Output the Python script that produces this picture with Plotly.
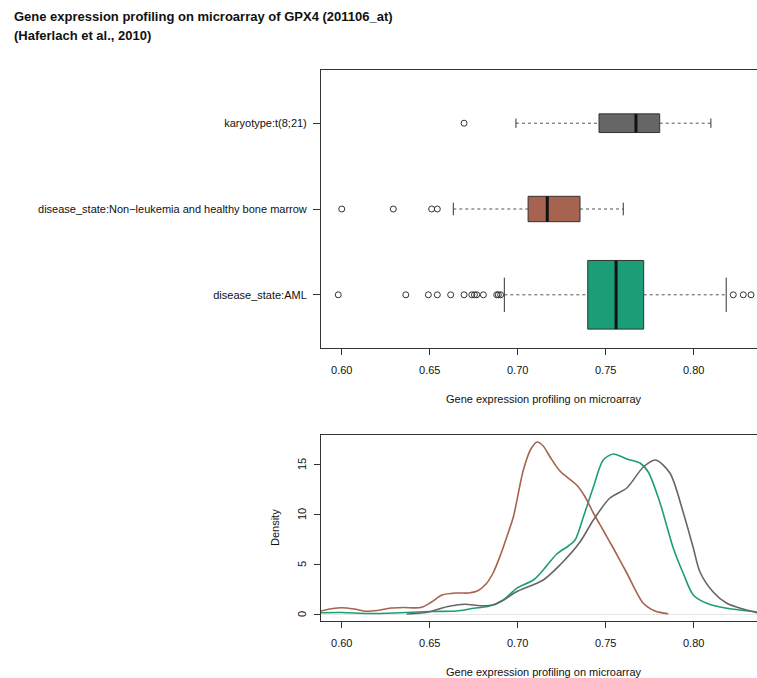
import numpy as np
import plotly.graph_objects as go

# ---- box plot data (GPX4, 201106_at) ----
groups = [
    "disease_state:AML",
    "disease_state:Non\u2212leukemia and healthy bone marrow",
    "karyotype:t(8;21)",
]
group_sizes = [542, 74, 40]
colors = ["#1B9E77", "#A6634F", "#666666"]

whisker_low = [0.6924, 0.6634, 0.6990]
q1 = [0.7398, 0.7059, 0.7462]
median = [0.7559, 0.7168, 0.7672]
q3 = [0.7716, 0.7354, 0.7807]
whisker_high = [0.8185, 0.7600, 0.8098]
outliers = [
    [0.5980, 0.6364, 0.6492, 0.6543, 0.6619, 0.6695, 0.6739, 0.6754, 0.6767,
     0.6805, 0.6881, 0.6890, 0.6903, 0.8225, 0.8282, 0.8326],
    [0.6000, 0.6293, 0.6511, 0.6543],
    [0.6695],
]

# ---- kernel density curves ----
dens_x_aml = [0.5882, 0.600, 0.615, 0.630, 0.650, 0.665, 0.675, 0.684, 0.6918,
              0.6994, 0.7089, 0.7145, 0.7222, 0.7288, 0.7326, 0.7373, 0.743,
              0.7486, 0.7543, 0.762, 0.7695, 0.7742, 0.7809, 0.7884, 0.794,
              0.7998, 0.8074, 0.8188, 0.8358]
dens_y_aml = [0.13, 0.15, 0.05, 0.10, 0.25, 0.30, 0.57, 0.80, 1.4,
              2.57, 3.4, 4.4, 6.0, 6.8, 7.4, 9.7, 12.7,
              15.4, 16.0, 15.5, 15.1, 14.2, 11.1, 6.6, 4.1,
              1.9, 1.07, 0.57, 0.23]

dens_x_normal = [0.5882, 0.595, 0.600, 0.607, 0.614, 0.620, 0.627, 0.635, 0.645,
                 0.651, 0.657, 0.665, 0.672, 0.677, 0.682, 0.686, 0.690, 0.6928,
                 0.6975, 0.7032, 0.7075, 0.7111, 0.7145, 0.7184, 0.724, 0.7335,
                 0.738, 0.743, 0.7485, 0.7543, 0.762, 0.7714, 0.778, 0.7856]
dens_y_normal = [0.30, 0.55, 0.63, 0.50, 0.27, 0.35, 0.57, 0.65, 0.65,
                 1.2, 1.9, 2.1, 2.1, 2.3, 3.0, 4.1, 5.8, 7.2,
                 9.7, 14.4, 16.5, 17.2, 16.8, 15.7, 14.3, 12.9,
                 11.8, 10.1, 8.4, 6.6, 4.1, 1.07, 0.30, 0.02]

dens_x_t821 = [0.6369, 0.645, 0.650, 0.6597, 0.670, 0.6786, 0.686, 0.692, 0.699,
               0.7145, 0.724, 0.7354, 0.743, 0.7524, 0.762, 0.7714, 0.7784,
               0.7865, 0.794, 0.7998, 0.8036, 0.8111, 0.8188, 0.8281, 0.836]
dens_y_t821 = [0.0, 0.10, 0.23, 0.73, 0.97, 0.83, 0.90, 1.4, 2.2,
               3.4, 4.9, 7.2, 9.4, 11.6, 12.6, 14.7, 15.4,
               14.1, 10.2, 6.6, 4.2, 2.2, 1.07, 0.5, 0.13]

density_series = [
    (dens_x_aml, dens_y_aml),
    (dens_x_normal, dens_y_normal),
    (dens_x_t821, dens_y_t821),
]

x_ticks = [0.60, 0.65, 0.70, 0.75, 0.80]
density_ticks = [0, 5, 10, 15]

title_lines = [
    "Gene expression profiling on microarray of GPX4 (201106_at)",
    "(Haferlach et al., 2010)",
]
x_title = "Gene expression profiling on microarray"

FONT = "Liberation Sans, Arial, Helvetica, sans-serif"
W, H = 757, 678
AXIS_COL = "#333333"
TEXT_COL = "#111111"

fig = go.Figure()

# ---- horizontal box plots (R style: dashed whiskers, staples, open-circle outliers) ----
max_n = max(group_sizes)
for i, name in enumerate(groups):
    pos = i + 1
    half = 0.4 * np.sqrt(group_sizes[i] / max_n)
    col = colors[i]
    # whiskers
    fig.add_trace(go.Scatter(
        x=[whisker_low[i], q1[i], None, q3[i], whisker_high[i]],
        y=[pos, pos, None, pos, pos],
        mode="lines", line=dict(color="#555555", width=1, dash="3px,3px"),
        hoverinfo="skip", showlegend=False, xaxis="x", yaxis="y"))
    # staples
    fig.add_trace(go.Scatter(
        x=[whisker_low[i], whisker_low[i], None, whisker_high[i], whisker_high[i]],
        y=[pos - half / 2, pos + half / 2, None, pos - half / 2, pos + half / 2],
        mode="lines", line=dict(color="#333333", width=1),
        hoverinfo="skip", showlegend=False, xaxis="x", yaxis="y"))
    # box
    fig.add_trace(go.Scatter(
        x=[q1[i], q3[i], q3[i], q1[i], q1[i]],
        y=[pos - half, pos - half, pos + half, pos + half, pos - half],
        mode="lines", fill="toself", fillcolor=col,
        line=dict(color="#333333", width=1),
        name=name, showlegend=False, xaxis="x", yaxis="y"))
    # median
    fig.add_trace(go.Scatter(
        x=[median[i], median[i]], y=[pos - half, pos + half],
        mode="lines", line=dict(color="#111111", width=3),
        hoverinfo="skip", showlegend=False, xaxis="x", yaxis="y"))
    # outliers
    fig.add_trace(go.Scatter(
        x=outliers[i], y=[pos] * len(outliers[i]),
        mode="markers",
        marker=dict(symbol="circle-open", size=6, color="#333333",
                    line=dict(width=1, color="#333333")),
        showlegend=False, xaxis="x", yaxis="y"))

# ---- density curves ----
for i, (dx, dy) in enumerate(density_series):
    fig.add_trace(go.Scatter(
        x=dx, y=dy, mode="lines",
        line=dict(color=colors[i], width=1.6, shape="spline", smoothing=0.8),
        name=groups[i], showlegend=False, xaxis="x2", yaxis="y2"))

x_left = 321 / W
top_dom = [1 - 348 / H, 1 - 70 / H]
bot_dom = [1 - 621 / H, 1 - 435 / H]
x_range = [0.5882, 0.836]

common_x = dict(
    range=x_range, domain=[x_left, 1], tickvals=x_ticks,
    ticktext=[f"{v:.2f}" for v in x_ticks],
    ticks="outside", ticklen=6, tickcolor=AXIS_COL, tickwidth=1,
    showline=True, linecolor=AXIS_COL, linewidth=1, mirror=True,
    showgrid=False, zeroline=False, ticklabelstandoff=6,
    tickfont=dict(family=FONT, size=11, color=TEXT_COL),
)

fig.update_layout(
    width=W, height=H,
    margin=dict(l=0, r=0, t=0, b=0),
    paper_bgcolor="white", plot_bgcolor="white",
    font=dict(family=FONT, size=11, color=TEXT_COL),
    xaxis=dict(anchor="y", **common_x),
    yaxis=dict(
        domain=top_dom, range=[0.38, 3.62], tickvals=[1, 2, 3], ticktext=groups,
        ticks="outside", ticklen=7, tickcolor=AXIS_COL,
        showline=True, linecolor=AXIS_COL, linewidth=1,
        showgrid=False, zeroline=False, ticklabelstandoff=4,
        tickfont=dict(family=FONT, size=11, color=TEXT_COL)),
    xaxis2=dict(anchor="y2", **common_x),
    yaxis2=dict(
        domain=bot_dom, range=[-0.7, 17.9], tickvals=density_ticks,
        ticks="outside", ticklen=6, tickcolor=AXIS_COL, showticklabels=False,
        showline=True, linecolor=AXIS_COL, linewidth=1,
        showgrid=False, zeroline=True, zerolinecolor="#e6e6e6", zerolinewidth=1),
)

# rotated density tick labels, placed at the tick values on the y2 axis
for v in density_ticks:
    fig.add_annotation(text=str(v), x=302 / W, xref="paper", y=v, yref="y2",
                       xanchor="center", yanchor="middle", textangle=-90,
                       showarrow=False, font=dict(family=FONT, size=11, color=TEXT_COL))

annotations = [
    dict(text=f"<b>{title_lines[0]}</b>", x=12 / W, y=1 - 16 / H),
    dict(text=f"<b>{title_lines[1]}</b>", x=12 / W, y=1 - 35 / H),
]
for a in annotations:
    a.update(xref="paper", yref="paper", xanchor="left", yanchor="middle",
             showarrow=False, font=dict(family=FONT, size=13, color=TEXT_COL))
    fig.add_annotation(**a)

for yc in (399, 672):
    fig.add_annotation(text=x_title, x=544 / W, y=1 - yc / H, xref="paper", yref="paper",
                       xanchor="center", yanchor="middle", showarrow=False,
                       font=dict(family=FONT, size=11, color=TEXT_COL))
fig.add_annotation(text="Density", x=275 / W, y=1 - 528 / H, xref="paper", yref="paper",
                   xanchor="center", yanchor="middle", textangle=-90, showarrow=False,
                   font=dict(family=FONT, size=11, color=TEXT_COL))

fig.write_html("out.html")
